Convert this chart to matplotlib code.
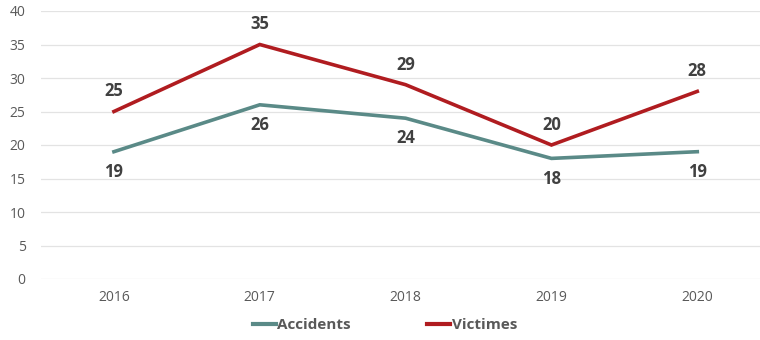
import matplotlib
matplotlib.use("Agg")
import matplotlib.pyplot as plt
from matplotlib.lines import Line2D

years = [2016, 2017, 2018, 2019, 2020]
accidents = [19, 26, 24, 18, 19]
victimes = [25, 35, 29, 20, 28]
yticks = [0, 5, 10, 15, 20, 25, 30, 35, 40]

teal = "#5a8a87"
red = "#b01c20"
label_color = "#404040"
tick_color = "#595959"

plt.rcParams["font.family"] = ["Open Sans", "DejaVu Sans"]

fig = plt.figure(figsize=(7.6, 3.4), dpi=100)
ax = fig.add_axes([41 / 760, 1 - 279 / 340, 719 / 760, 268 / 340])

ax.plot(years, accidents, color=teal, lw=2.6, solid_joinstyle="miter")
ax.plot(years, victimes, color=red, lw=2.6, solid_joinstyle="miter")

for x, v in zip(years, victimes):
    ax.annotate(str(v), (x, v), xytext=(0, 8), textcoords="offset points",
                ha="center", va="bottom", fontsize=12, fontweight="bold",
                color=label_color)
for x, v in zip(years, accidents):
    ax.annotate(str(v), (x, v), xytext=(0, -8), textcoords="offset points",
                ha="center", va="top", fontsize=12, fontweight="bold",
                color=label_color)

ax.set_xlim(2015.5, 2020.43)
ax.set_ylim(0, 40)
ax.set_yticks(yticks)
ax.set_xticks(years)
ax.set_xticklabels([str(y) for y in years])
ax.grid(axis="y", color="#e3e3e3", lw=0.9)
ax.set_axisbelow(True)
for s in ax.spines.values():
    s.set_visible(False)
ax.tick_params(axis="both", length=0, colors=tick_color, labelsize=10)
ax.tick_params(axis="x", pad=8)
ax.tick_params(axis="y", pad=11)

handles = [Line2D([], [], color=teal, lw=3), Line2D([], [], color=red, lw=3)]
leg = fig.legend(handles, ["Accidents", "Victimes"], loc="center",
                 bbox_to_anchor=(385 / 760, 1 - 325 / 340), ncol=2, frameon=False,
                 handlelength=1.5, handletextpad=0.1, columnspacing=5.0,
                 prop={"size": 11, "weight": "bold"})
for t in leg.get_texts():
    t.set_color(tick_color)

fig.savefig("out.png", dpi=100)
